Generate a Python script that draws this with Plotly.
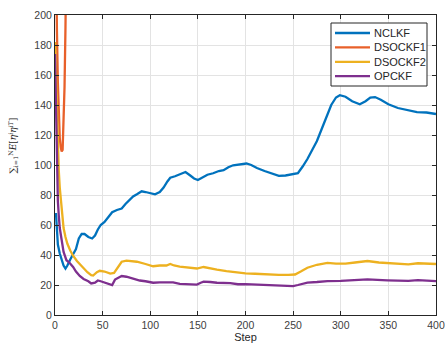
import plotly.graph_objects as go

# ---- data ----
nclkf_x = [1, 2, 3, 5, 7, 9, 11, 13, 16, 20, 22, 25, 28, 31, 35, 39, 42, 45, 48, 52, 56, 60, 65, 70, 74, 78, 82, 86, 91, 95, 100, 105, 110, 114, 118, 121, 126, 132, 137, 142, 146, 150, 155, 160, 166, 172, 177, 182, 187, 192, 196, 201, 206, 212, 220, 228, 235, 242, 250, 255, 260, 265, 270, 275, 280, 284, 290, 295, 299, 305, 312, 320, 326, 331, 336, 342, 350, 360, 371, 380, 390, 397, 400]
nclkf_y = [68, 55, 47, 41, 36.5, 33, 31, 33, 37, 42, 44, 51, 54, 54, 52, 51, 53, 57, 60, 62, 65, 68.5, 70, 71, 74, 76.5, 79, 80.5, 82.5, 82, 81.5, 80.5, 82, 85, 89, 91.5, 92.5, 94, 95.3, 93, 91, 90, 91.5, 93.5, 94.5, 96, 96.5, 98.5, 99.8, 100.3, 100.2, 101, 100, 98, 96, 94, 92.7, 93, 93.8, 94.5, 99, 104, 110, 116, 124, 130, 140, 145, 146.5, 145.5, 142.5, 140.5, 142.5, 145, 145.3, 143.5, 140.5, 138, 136.3, 135.3, 135, 134.5, 134]

dsockf1_x = [0, 1, 2, 3, 4, 5, 6, 7, 8, 9, 10, 11, 12, 13]
dsockf1_y = [320, 240, 190, 155, 130, 118, 112, 109, 110, 126, 152, 192, 245, 310]

dsockf2_x = [0, 1, 2, 3, 4, 5, 7, 9, 11, 13, 16, 19, 23, 26, 30, 34, 38, 40, 44, 47, 52, 58, 62, 66, 70, 75, 80, 86, 95, 103, 110, 117, 121, 125, 131, 140, 149, 156, 163, 170, 180, 190, 200, 210, 220, 235, 245, 252, 258, 265, 275, 286, 295, 305, 315, 328, 340, 350, 360, 371, 381, 390, 400]
dsockf2_y = [182, 160, 130, 108, 96, 85, 70, 58, 52, 47.5, 43, 39.5, 36, 34, 31, 28.5, 26.5, 26.3, 28.5, 29.5, 29, 27.6, 28, 32, 35.5, 36.3, 36, 35.5, 34, 32.5, 33, 33, 34, 33, 32.3, 31.5, 31, 32, 31, 30.2, 29.3, 28.5, 27.8, 27.5, 27, 26.7, 26.7, 27, 29, 31.5, 33.5, 34.8, 34.3, 34.3, 35, 36, 35, 34.5, 34.2, 33.8, 34.5, 34.3, 34]

opckf_x = [0, 1, 2, 3, 4, 5, 7, 9, 12, 15, 19, 22, 26, 30, 35, 38, 42, 45, 48, 52, 56, 60, 63, 67, 70, 75, 80, 89, 95, 103, 110, 117, 124, 131, 140, 149, 153, 156, 163, 170, 184, 192, 200, 215, 235, 250, 255, 265, 275, 286, 300, 315, 328, 349, 360, 371, 381, 400]
opckf_y = [174, 135, 96, 76, 66, 58, 50, 42, 36.5, 35, 32, 29, 26, 24, 22.5, 21, 21.5, 23, 22.5, 21.5, 20.5, 20, 23.6, 25, 26, 25.5, 24.5, 23, 22.5, 21.5, 21.8, 21.6, 21.8, 20.8, 20.8, 20.3, 21.5, 22.2, 22, 21.5, 21.3, 20.5, 20.6, 20.2, 19.8, 19.3, 20, 21.6, 22, 22.6, 22.7, 23.2, 23.7, 23.1, 23, 22.7, 23.2, 22.6]

series_names = ["NCLKF", "DSOCKF1", "DSOCKF2", "OPCKF"]
series_colors = ["#0072BD", "#E8602A", "#EDB120", "#7E2F8E"]

x_ticks = [0, 50, 100, 150, 200, 250, 300, 350, 400]
y_ticks = [0, 20, 40, 60, 80, 100, 120, 140, 160, 180, 200]

xs_all = [nclkf_x, dsockf1_x, dsockf2_x, opckf_x]
ys_all = [nclkf_y, dsockf1_y, dsockf2_y, opckf_y]

fig = go.Figure()
for name, xs, ys, col in zip(series_names, xs_all, ys_all, series_colors):
    fig.add_trace(go.Scatter(x=xs, y=ys, mode="lines", name=name,
                             line=dict(color=col, width=2.3), showlegend=False))

axis_common = dict(
    showline=True, linecolor="#262626", linewidth=1, mirror="ticks",
    ticks="inside", ticklen=4, tickcolor="#262626",
    showgrid=True, gridcolor="#e3e3e3", gridwidth=1,
    zeroline=False, automargin=False,
    tickfont=dict(family="Liberation Sans, Arial, sans-serif", size=10.5, color="#404040"),
)

fig.update_layout(
    width=445, height=350,
    margin=dict(l=55, r=9, t=15, b=35),
    paper_bgcolor="white", plot_bgcolor="white",
    font=dict(family="Liberation Sans, Arial, sans-serif", color="#262626"),
    xaxis=dict(range=[0, 400], tickvals=x_ticks,
               ticklabeloverflow="allow",
               title=dict(text="Step", font=dict(size=11, color="#262626"), standoff=2),
               **axis_common),
    yaxis=dict(range=[0, 200], tickvals=y_ticks, **axis_common),
    showlegend=False,
)

# y-axis label (math-style)
fig.add_annotation(
    xref="paper", yref="paper", x=-0.11, y=0.565, xanchor="center", yanchor="middle",
    textangle=-90, showarrow=False,
    text="∑<sub>i=1</sub><sup>N</sup><i>E</i>[<i>η<sup>i</sup>η<sup>iT</sup></i>]",
    font=dict(family="DejaVu Serif, Liberation Serif, serif", size=9, color="#262626"),
)

# legend box (paper coordinates derived from plot area: l=55, w=381, t=15, h=300)
def px_x(p):
    return (p - 55) / 381.0

def px_y(p):
    return (315 - p) / 300.0

fig.add_shape(type="rect", xref="paper", yref="paper",
              x0=px_x(331), x1=px_x(427), y0=px_y(86), y1=px_y(23),
              line=dict(color="#262626", width=1), fillcolor="white", layer="above")
for i, (name, col) in enumerate(zip(series_names, series_colors)):
    yc = 33 + i * 14.4
    fig.add_shape(type="line", xref="paper", yref="paper",
                  x0=px_x(335), x1=px_x(370), y0=px_y(yc), y1=px_y(yc),
                  line=dict(color=col, width=2.3), layer="above")
    fig.add_annotation(xref="paper", yref="paper", x=px_x(372), y=px_y(yc),
                       xanchor="left", yanchor="middle", showarrow=False,
                       text=name, font=dict(size=11, color="#262626"))

fig.write_html("out.html", config={"displayModeBar": False},
               post_script="document.body.style.margin='0';document.body.style.padding='0';")
